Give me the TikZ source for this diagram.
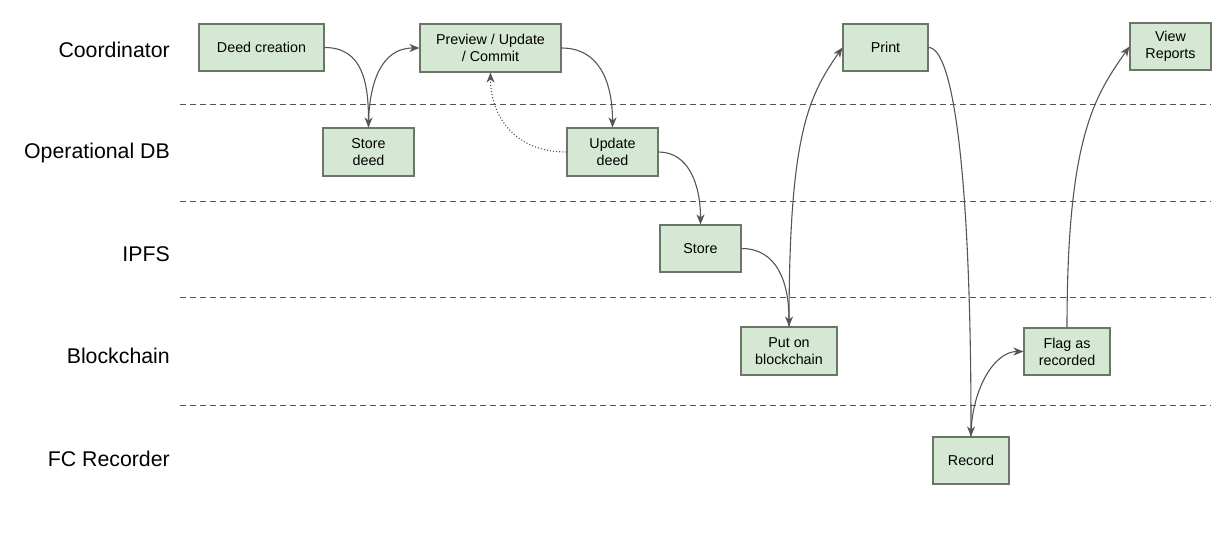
\documentclass[tikz,border=0pt]{standalone}
\usepackage{fontspec}
\setmainfont{Liberation Sans}
\usetikzlibrary{arrows.meta}
\definecolor{boxfill}{HTML}{D5E8D4}
\definecolor{boxline}{HTML}{6B756A}
\definecolor{edgecol}{HTML}{555555}
\definecolor{lanecol}{HTML}{555555}
\begin{document}
\begin{tikzpicture}[x=1pt,y=-1pt,
  stepbox/.style={draw=boxline,fill=boxfill,line width=1.1pt,inner sep=0pt,align=center,
    font=\fontsize{14.3}{17}\selectfont},
  lanelabel/.style={anchor=east,font=\fontsize{21.3}{25}\selectfont,inner sep=0pt},
  laneline/.style={draw=lanecol,dashed,dash pattern=on 6pt off 4pt,line width=1pt},
  flow/.style={draw=edgecol,line width=1.1pt,-{Stealth[length=10pt,width=8pt,inset=3pt]}},
  dotflow/.style={flow,dotted,line width=1.1pt}]
\useasboundingbox (0,0) rectangle (1230,541);
% lanes
\coordinate (l1a) at (180,104); \coordinate (l1b) at (1211,104);
\coordinate (l2a) at (180,201); \coordinate (l2b) at (1211,201);
\coordinate (l3a) at (180,297); \coordinate (l3b) at (1211,297);
\coordinate (l4a) at (180,405); \coordinate (l4b) at (1211,405);
\draw[laneline] (l1a) -- (l1b);
\draw[laneline] (l2a) -- (l2b);
\draw[laneline] (l3a) -- (l3b);
\draw[laneline] (l4a) -- (l4b);
\node[lanelabel] (lab1) at (170,50) {Coordinator};
\node[lanelabel] (lab2) at (170,153) {Operational DB};
\node[lanelabel] (lab3) at (170,254) {IPFS};
\node[lanelabel] (lab4) at (170,356) {Blockchain};
\node[lanelabel] (lab5) at (170,459) {FC Recorder};
% boxes
\node[stepbox,minimum width=125pt,minimum height=47pt] (dc) at (261.5,47.5) {Deed creation};
\node[stepbox,minimum width=141pt,minimum height=48pt] (pv) at (490.5,48) {Preview / Update\\/ Commit};
\node[stepbox,minimum width=91pt,minimum height=48pt] (sd) at (368.5,152) {Store\\deed};
\node[stepbox,minimum width=91pt,minimum height=48pt] (ud) at (612.5,152) {Update\\deed};
\node[stepbox,minimum width=81pt,minimum height=47pt] (st) at (700.5,248.5) {Store};
\node[stepbox,minimum width=96pt,minimum height=48pt] (pb) at (789,351) {Put on\\blockchain};
\node[stepbox,minimum width=85pt,minimum height=47pt] (pr) at (885.5,47.5) {Print};
\node[stepbox,minimum width=81pt,minimum height=47pt] (vr) at (1170.5,46.5) {View\\Reports};
\node[stepbox,minimum width=86pt,minimum height=47pt] (fl) at (1067,351.5) {Flag as\\recorded};
\node[stepbox,minimum width=76pt,minimum height=47pt] (rc) at (971,460.5) {Record};
% edges
\draw[flow] (dc.east) .. controls +(38,0) and +(0,-45) .. (sd.north);
\draw[flow] (sd.north) .. controls +(0,-45) and +(-38,0) .. (pv.west);
\draw[flow] (pv.east) .. controls +(38,0) and +(0,-45) .. (ud.north);
\draw[dotflow] (ud.west) .. controls +(-55,0) and +(0,40) .. (pv.south);
\draw[flow] (ud.east) .. controls +(30,0) and +(0,-40) .. (st.north);
\draw[flow] (st.east) .. controls +(35,0) and +(0,-45) .. (pb.north);
\draw[flow] (pb.north) .. controls +(0,-190) and +(-35,50) .. (pr.west);
\draw[flow] (pr.east) .. controls +(25,0) and +(0,-260) .. (rc.north);
\draw[flow] (rc.north) .. controls +(0,-45) and +(-30,0) .. (fl.west);
\draw[flow] (fl.north) .. controls +(0,-190) and +(-35,50) .. (vr.west);
\end{tikzpicture}
\end{document}
